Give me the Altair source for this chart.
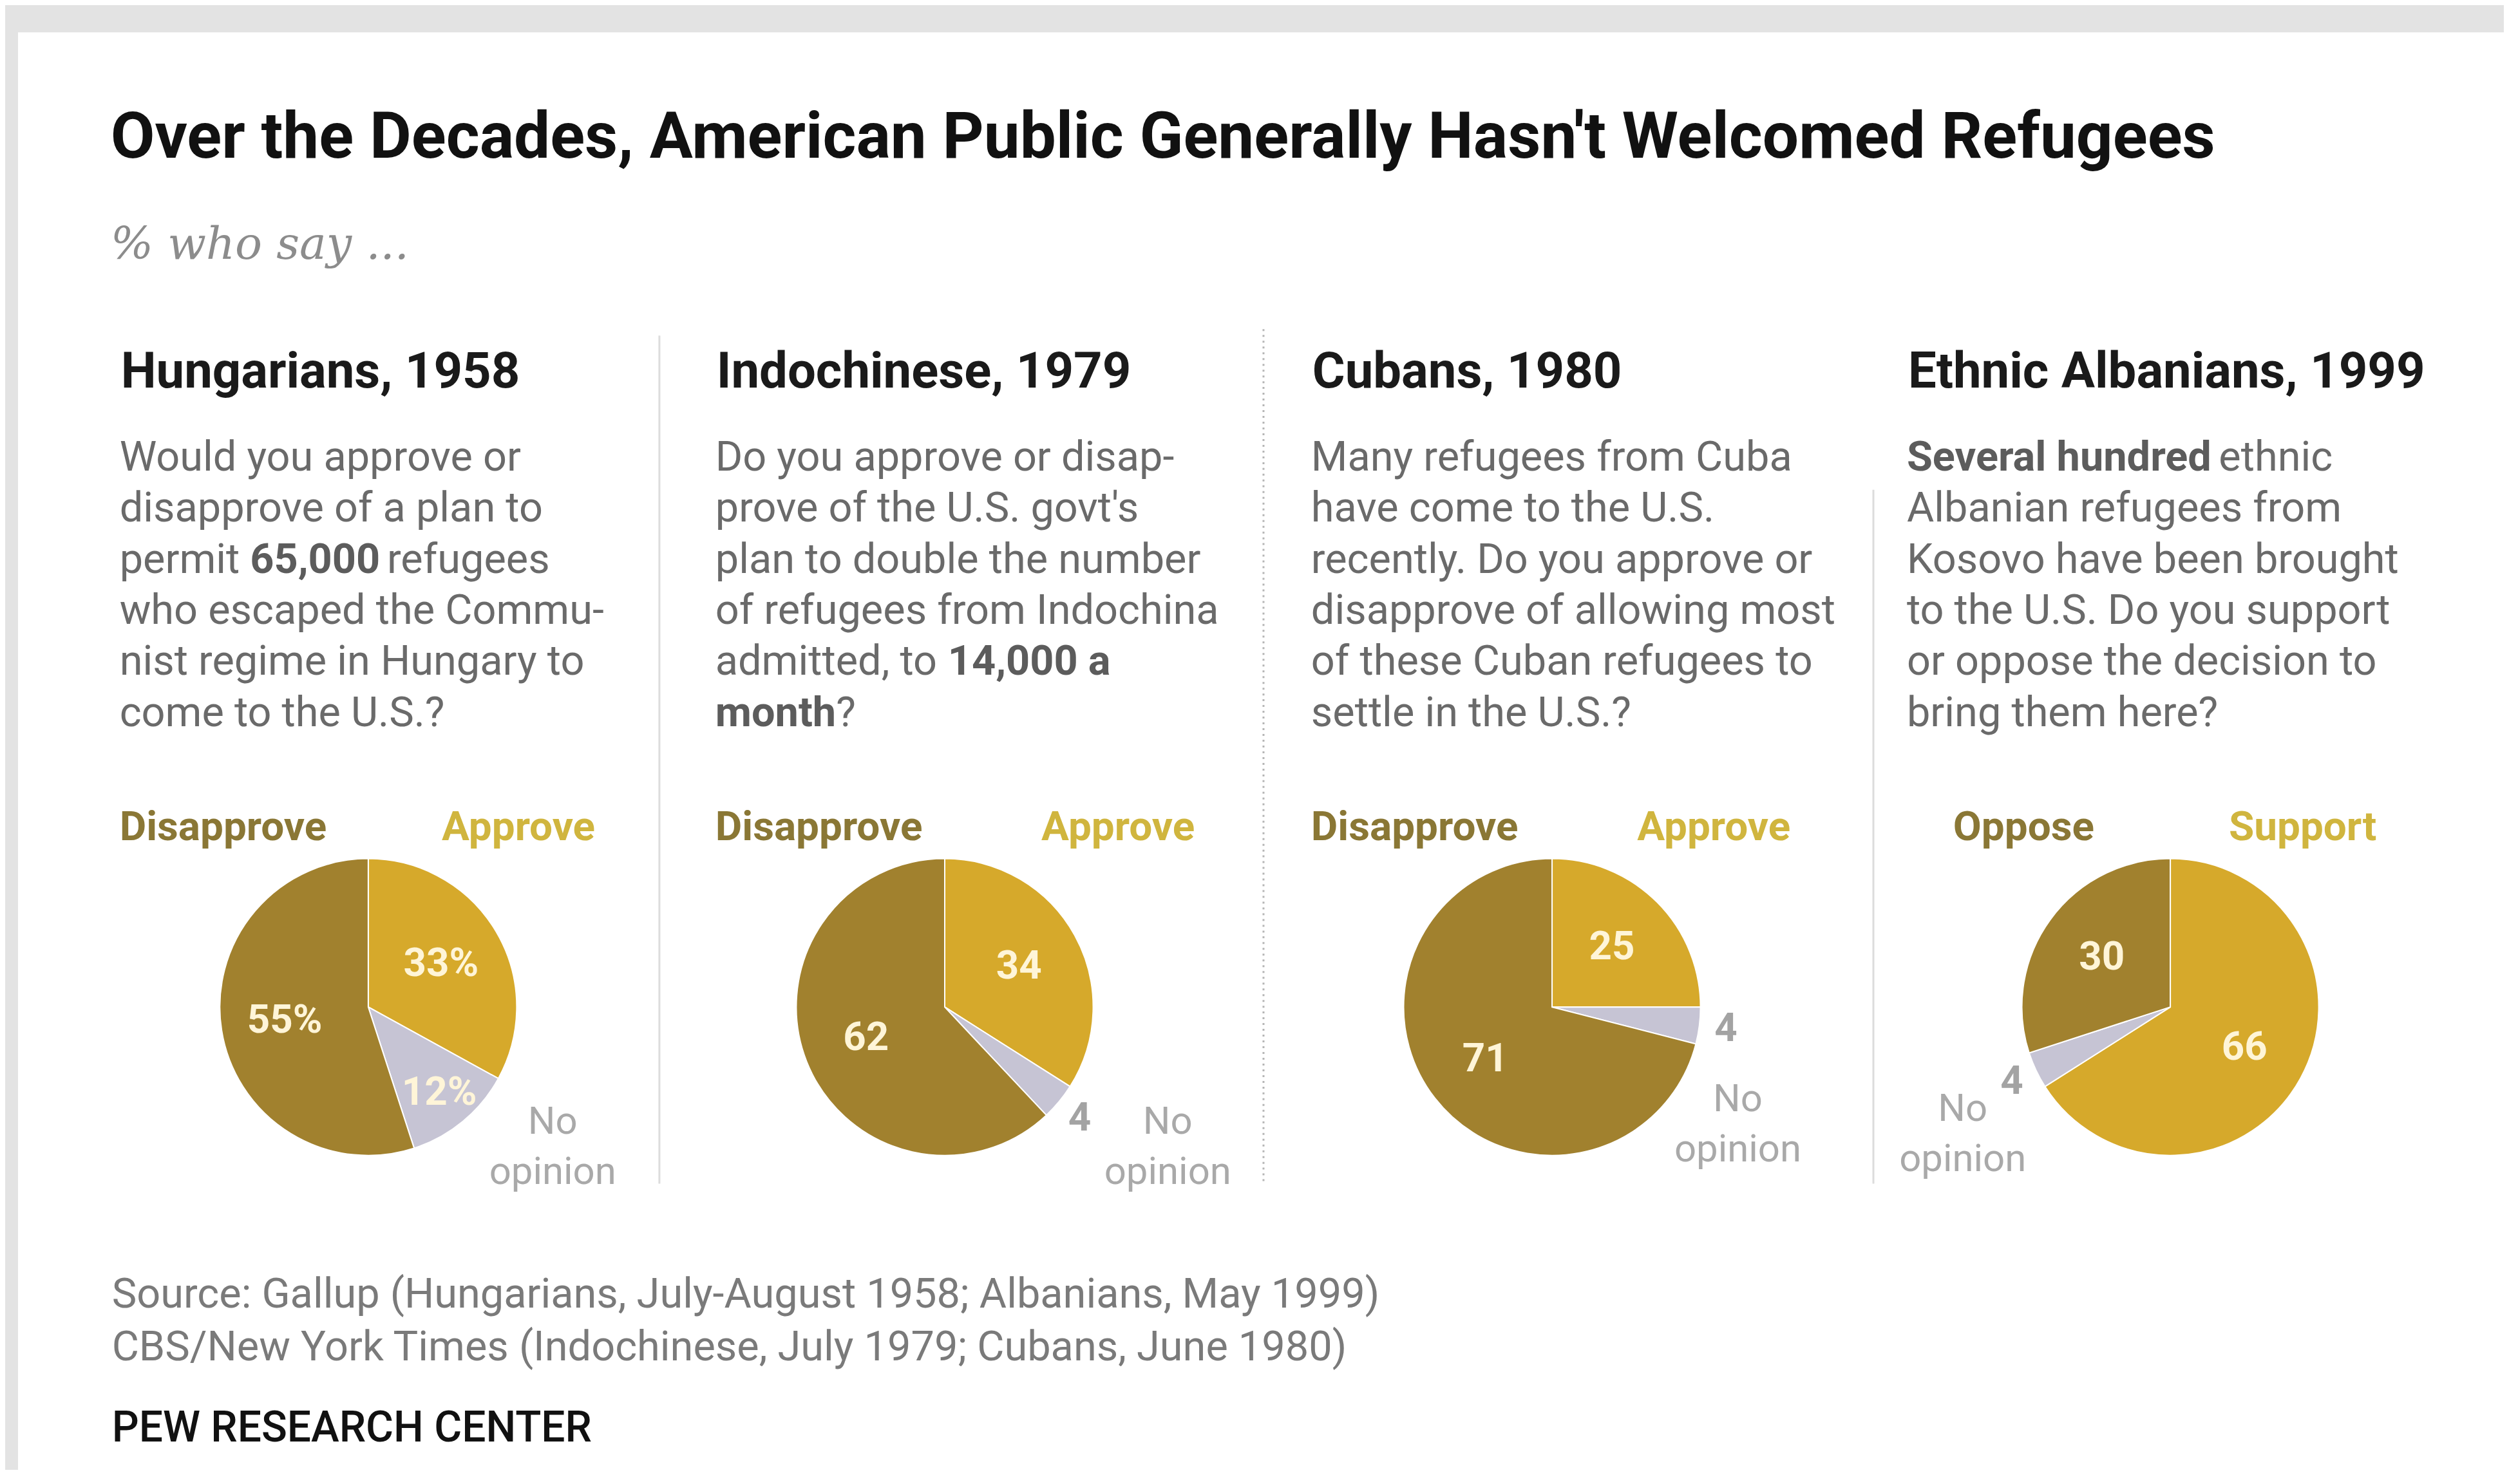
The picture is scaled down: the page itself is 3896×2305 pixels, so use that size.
import altair as alt
import pandas as pd

# ---------------- data ----------------
title_text = "Over the Decades, American Public Generally Hasn't Welcomed Refugees"
subtitle_text = "% who say ..."
panel_titles = ["Hungarians, 1958", "Indochinese, 1979", "Cubans, 1980", "Ethnic Albanians, 1999"]
against_labels = ["Disapprove", "Disapprove", "Disapprove", "Oppose"]
favor_labels = ["Approve", "Approve", "Approve", "Support"]
favor_pct = [33, 34, 25, 66]
no_opinion_pct = [12, 4, 4, 4]
against_pct = [55, 62, 71, 30]
show_pct_sign = [True, False, False, False]
no_opinion_words = ["No", "opinion"]
question_lines = [
    ["Would you approve or", "disapprove of a plan to", "permit **65,000** refugees",
     "who escaped the Commu-", "nist regime in Hungary to", "come to the U.S.?"],
    ["Do you approve or disap-", "prove of the U.S. govt's", "plan to double the number",
     "of refugees from Indochina", "admitted, to **14,000 a**", "**month**?"],
    ["Many refugees from Cuba", "have come to the U.S.", "recently. Do you approve or",
     "disapprove of allowing most", "of these Cuban refugees to", "settle in the U.S.?"],
    ["**Several hundred** ethnic", "Albanian refugees from", "Kosovo have been brought",
     "to the U.S. Do you support", "or oppose the decision to", "bring them here?"],
]
source_lines = ["Source: Gallup (Hungarians, July-August 1958; Albanians, May 1999)",
                "CBS/New York Times (Indochinese, July 1979; Cubans, June 1980)"]
footer_text = "PEW RESEARCH CENTER"

# ---------------- layout (screen px) ----------------
OFF = 8
W, H = 3888, 2275
PANEL_X = [186, 1113, 2040, 2967]
PIE_CX = [573, 1470, 2415, 3377]
PIE_CY = 1565
R = 231
CAT_LEFT_X = [186, 1113, 2040, 3039]
CAT_RIGHT_X = [926, 1859, 2786, 3698]
NOOP_X = [860, 1817, 2704, 3054]
NOOP_Y = [1762, 1762, 1727, 1742]
Q_FS = 65

REG = {' ': .248, ',': .197, '.': .263, '?': .473, "'": .175, '-': .276,
       'a': .544, 'b': .561, 'c': .523, 'd': .564, 'e': .530, 'f': .347, 'g': .561,
       'h': .551, 'i': .243, 'j': .239, 'k': .506, 'l': .243, 'm': .876, 'n': .552,
       'o': .570, 'p': .561, 'q': .568, 'r': .338, 's': .516, 't': .327, 'u': .551,
       'v': .484, 'w': .751, 'x': .496, 'y': .473, 'z': .496}
BOLD = {' ': .243, ',': .222, '.': .27, '?': .48, 'a': .544, 'd': .563, 'e': .531,
        'h': .553, 'l': .258, 'm': .876, 'n': .553, 'o': .571, 'r': .354, 't': .337,
        'u': .553, 'v': .492, 'S': .597}


def text_width(s, bold):
    tab = BOLD if bold else REG
    w = 0.0
    for ch in s:
        if ch.isdigit():
            w += .562
        else:
            w += tab.get(ch, .58 if ch.isupper() else .55)
    return w * Q_FS


rows = []


def add(kind, t, x, y):
    rows.append({"kind": kind, "t": t, "x": x - OFF, "y": y - OFF})


add("title", title_text, 172, 243)
add("subtitle", subtitle_text, 172, 400)
for i in range(4):
    add("heading", panel_titles[i], PANEL_X[i] + 2, 601)
    for j, line in enumerate(question_lines[i]):
        y = 730 + 79.5 * j
        x = PANEL_X[i]
        for k, seg in enumerate(line.split("**")):
            if seg == "":
                continue
            bold = (k % 2 == 1)
            lead = len(seg) - len(seg.lstrip(" "))
            xr = x + text_width(" " * lead, bold)
            add("qb" if bold else "q", seg.strip(), xr, y)
            x += text_width(seg, bold)
    add("catL", against_labels[i], CAT_LEFT_X[i], 1305)
    add("catR", favor_labels[i], CAT_RIGHT_X[i], 1305)
    add("noop", no_opinion_words[0], NOOP_X[i], NOOP_Y[i])
    add("noop", no_opinion_words[1], NOOP_X[i], NOOP_Y[i] + 78)
add("source", source_lines[0], 174, 2033)
add("source", source_lines[1], 174, 2115)
add("footer", footer_text, 174, 2241)
text_df = pd.DataFrame(rows)

styles = {
    "title": dict(font="Roboto", fontSize=100, fontWeight="bold", color="#111111"),
    "subtitle": dict(font="DejaVu Serif", fontSize=70, fontStyle="italic", color="#8c8c8c"),
    "heading": dict(font="Roboto", fontSize=78, fontWeight="bold", color="#1a1a1a"),
    "q": dict(font="Roboto", fontSize=Q_FS, color="#6a6a6a"),
    "qb": dict(font="Roboto", fontSize=Q_FS, fontWeight="bold", color="#5c5c5c"),
    "catL": dict(font="Roboto", fontSize=64, fontWeight="bold", color="#8a7735"),
    "catR": dict(font="Roboto", fontSize=64, fontWeight="bold", color="#d0b53e", align="right"),
    "noop": dict(font="Roboto", fontSize=60, color="#a9a9a9", align="center"),
    "source": dict(font="Roboto", fontSize=65, color="#7a7a7a"),
    "footer": dict(font="Roboto", fontSize=66, fontWeight=500, color="#111111"),
}

text_layers = []
for kind, st in styles.items():
    st = dict(st)
    align = st.pop("align", "left")
    text_layers.append(
        alt.Chart(text_df).transform_filter(alt.datum.kind == kind)
        .mark_text(align=align, baseline="alphabetic", **st)
        .encode(x=alt.X("x:Q", scale=None, axis=None),
                y=alt.Y("y:Q", scale=None, axis=None),
                text="t:N")
    )

# pie data
pie_rows = []
for i in range(4):
    for resp, vals, o in (("favor", favor_pct, 1), ("none", no_opinion_pct, 2), ("against", against_pct, 3)):
        v = vals[i]
        pie_rows.append({"p": i, "resp": resp, "v": v, "ord": o,
                         "lab": f"{v}%" if show_pct_sign[i] else str(v)})
pie_df = pd.DataFrame(pie_rows)

color_scale = alt.Scale(domain=["favor", "none", "against"],
                        range=["#d6a92b", "#c6c4d4", "#a1812e"])
theta_scale = alt.Scale(domain=[0, 100])

arc_layers, lab_layers = [], []
for i in range(4):
    base = alt.Chart(pie_df).transform_filter(alt.datum.p == i)
    arc_layers.append(
        base.mark_arc(outerRadius=R, stroke="#ffffff", strokeWidth=2).encode(
            theta=alt.Theta("v:Q", stack=True, scale=theta_scale),
            color=alt.Color("resp:N", scale=color_scale, legend=None),
            order=alt.Order("ord:Q"),
            x=alt.value(PIE_CX[i] - OFF), y=alt.value(PIE_CY - OFF))
    )
    lab_layers.append(
        base.transform_stack(stack="v", as_=["v0", "v1"], groupby=[],
                             sort=[alt.SortField("ord", order="ascending")])
        .transform_calculate(mid="(datum.v0 + datum.v1) / 2",
                             rf="datum.v >= 20 ? 0.57 : (datum.v >= 10 ? 0.75 : 1.18)")
        .mark_text(font="Roboto", fontSize=62, fontWeight="bold", align="center", baseline="middle")
        .encode(
            theta=alt.Theta("mid:Q", stack=None, scale=theta_scale),
            radius=alt.Radius("rf:Q", scale=alt.Scale(type="linear", domain=[0, 1], range=[0, R])),
            text="lab:N",
            color=alt.condition("datum.v >= 10", alt.value("#fff5d8"), alt.value("#a3a3a3")),
            x=alt.value(PIE_CX[i] - OFF), y=alt.value(PIE_CY - OFF))
    )

# background card
card = alt.Chart(pd.DataFrame({"a": [0]})).mark_rect(color="#ffffff").encode(
    x=alt.value(28 - OFF), x2=alt.value(W + 20), y=alt.value(48 - OFF), y2=alt.value(H + 20))

div_df = pd.DataFrame({"x": [1026 - OFF, 2915 - OFF, 1966 - OFF],
                       "y": [520 - OFF, 760 - OFF, 510 - OFF],
                       "y2": [1840 - OFF, 1840 - OFF, 1840 - OFF],
                       "dotted": [0, 0, 1]})
solid_rules = alt.Chart(div_df).transform_filter(alt.datum.dotted == 0).mark_rule(
    color="#dcdcdc", strokeWidth=3).encode(
    x=alt.X("x:Q", scale=None, axis=None), y=alt.Y("y:Q", scale=None, axis=None), y2="y2:Q")
dotted_rules = alt.Chart(div_df).transform_filter(alt.datum.dotted == 1).mark_rule(
    color="#b5b5b5", strokeWidth=3, strokeDash=[3, 6]).encode(
    x=alt.X("x:Q", scale=None, axis=None), y=alt.Y("y:Q", scale=None, axis=None), y2="y2:Q")

chart = alt.layer(card, solid_rules, dotted_rules, *arc_layers, *lab_layers, *text_layers).properties(
    width=W, height=H, autosize=alt.AutoSizeParams(type="none"), padding=0
).configure(background="#e3e3e3").configure_view(stroke=None)

chart.save("out.html", embed_options={"renderer": "svg", "actions": False})
